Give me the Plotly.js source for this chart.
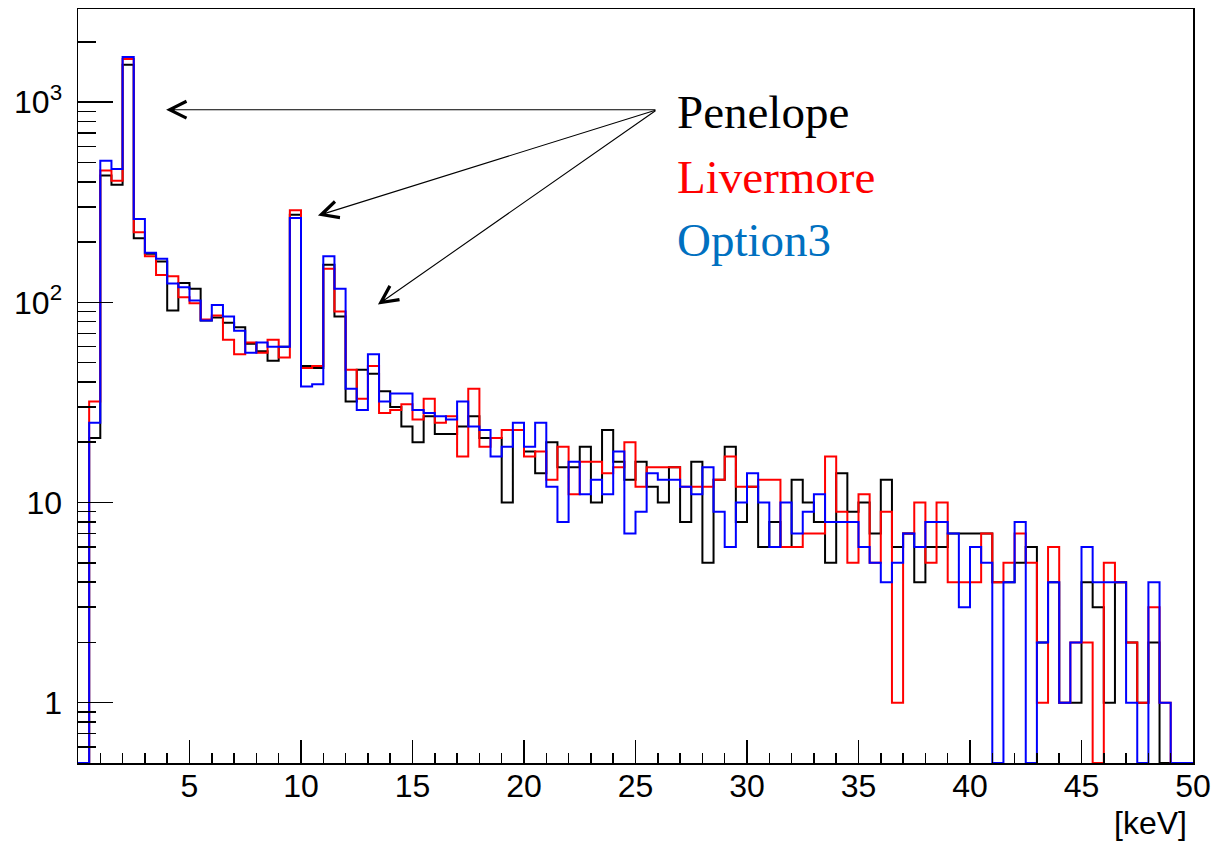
<!DOCTYPE html>
<html><head><meta charset="utf-8">
<script src="https://cdn.plot.ly/plotly-3.0.1.min.js"></script>
<style>html,body{margin:0;padding:0;background:#fff}#chart{width:1211px;height:842px}</style>
</head><body><div id="chart"></div>
<script>
// Histogram: 100 bins of 0.5 keV from 0 to 50 keV
const binLow = 0;
const binWidth = 0.5;

const penelope = [0,21,430,387,1537,209,175,160,91,125,
  117,81,84,79,75,62,57,51,60,274,
  48,47,154,85,32,46,44,36,30,24,
  20,27,22,22,24,27,21,21,10,23,
  18,14,20,15,15,19,10,23,16,13,
  16,12,10,15,8,16,5,13,19,8,
  12,6,8,6,13,10,8,5,14,9,
  10,7,13,6,7,4,6,6,7,7,
  7,7,4,4,5,6,2,4,1,1,
  4,3,1,4,2,1,2,0,0,0];

const livermore = [0,32,455,405,1641,224,170,137,135,106,
  99,82,86,65,55,63,56,65,53,288,
  47,48,147,90,46,33,48,28,29,31,
  26,33,25,27,17,37,19,21,23,23,
  17,18,13,19,11,16,16,14,15,20,
  12,15,15,15,12,12,12,13,17,12,
  12,13,13,6,6,7,7,17,9,5,
  11,5,9,1,7,10,5,10,4,4,
  4,7,4,5,7,5,1,6,1,2,
  2,0,5,4,2,1,3,1,0,0];

const option3 = [0,25,510,463,1680,261,177,165,124,119,
  102,81,97,85,72,56,63,60,60,264,
  38,39,170,117,37,29,55,32,35,35,
  29,28,27,26,32,24,23,17,19,25,
  19,25,12,8,16,11,13,11,18,7,
  9,14,13,13,12,11,15,9,6,10,
  14,10,6,10,7,9,11,8,8,8,
  6,5,4,5,7,6,8,8,7,3,
  6,5,0,4,8,0,2,4,1,2,
  6,4,4,4,1,0,4,1,0,0];

const seriesNames = ["Penelope", "Livermore", "Option3"];
const xTickVals = [5,10,15,20,25,30,35,40,45,50];
const xTickText = ["5","10","15","20","25","30","35","40","45","50"];
const yTickVals = [1,10,100,1000];
const yTickText = ["1","10","10<sup>2</sup>","10<sup>3</sup>"];
const yMinorVals = [0.6,0.7,0.8,0.9,2,3,4,5,6,7,8,9,20,30,40,50,60,70,80,90,200,300,400,500,600,700,800,900,2000];
const xRange = [0, 50];
const yMin = 0.5, yMax = 2917;
const xUnit = "[keV]";

function stepTrace(counts, color, name){
  const xs = [], ys = [];
  counts.forEach((c, i) => { xs.push(binLow + i*binWidth); ys.push(c > 0 ? c : yMin); });
  const last = counts[counts.length-1];
  xs.push(binLow + counts.length*binWidth); ys.push(last > 0 ? last : yMin);
  return {type:'scatter', mode:'lines', x:xs, y:ys, name:name,
    line:{shape:'hv', color:color, width:2}, hoverinfo:'skip', cliponaxis:true};
}

const traces = [
  stepTrace(penelope, '#000000', seriesNames[0]),
  stepTrace(livermore, '#ff0000', seriesNames[1]),
  stepTrace(option3, '#0000ff', seriesNames[2])
];

const L = Math.log10;
// arrows: tail near the labels, heads at the peaks
const tail = {x: 25.96, y: 916};
const heads = [{x: 3.95, y: 916}, {x: 10.76, y: 271}, {x: 13.45, y: 97.5}];

const annotations = heads.map(h => ({
  x: h.x, y: L(h.y), xref:'x', yref:'y',
  ax: tail.x, ay: L(tail.y), axref:'x', ayref:'y',
  text:'', showarrow:true, arrowhead:5, arrowsize:3.0, arrowwidth:1.1, arrowcolor:'#000', standoff:0, startstandoff:0
}));

const labelFont = {family:'"Liberation Serif", "DejaVu Serif", serif', size:47};
annotations.push(
  {xref:'paper', yref:'paper', x:0.535, y:0.8634, xanchor:'left', yanchor:'middle', showarrow:false,
   text:seriesNames[0], font:Object.assign({}, labelFont, {color:'#000000'})},
  {xref:'paper', yref:'paper', x:0.535, y:0.7772, xanchor:'left', yanchor:'middle', showarrow:false,
   text:seriesNames[1], font:Object.assign({}, labelFont, {color:'#ff0000'})},
  {xref:'paper', yref:'paper', x:0.535, y:0.6936, xanchor:'left', yanchor:'middle', showarrow:false,
   text:seriesNames[2], font:Object.assign({}, labelFont, {color:'#0070c0'})},
  {xref:'paper', yref:'paper', x:1, y:0, xanchor:'right', yanchor:'middle', yshift:-60, xshift:-4, showarrow:false,
   text:xUnit, font:{family:'"Liberation Sans", Arial, sans-serif', size:32, color:'#000'}}
);

const tickFont = {family:'"Liberation Sans", Arial, sans-serif', size:32, color:'#000'};

const layout = {
  width:1211, height:842,
  margin:{l:78, r:18, t:9, b:79, pad:0},
  paper_bgcolor:'#fff', plot_bgcolor:'#fff',
  showlegend:false,
  xaxis:{range:xRange, showgrid:false, zeroline:false, showline:true, linecolor:'#000', linewidth:1.5, mirror:true,
    ticks:'inside', tickvals:xTickVals, ticktext:xTickText, ticklen:23, tickwidth:1.5, tickcolor:'#000',
    tickfont:tickFont, ticklabelstandoff:-6, ticklabeloverflow:'allow',
    minor:{ticks:'inside', tick0:0, dtick:1, ticklen:10, tickwidth:1.5, tickcolor:'#000', showgrid:false}},
  yaxis:{type:'log', range:[L(yMin), L(yMax)], showgrid:false, zeroline:false, showline:true, linecolor:'#000', linewidth:1.5, mirror:true,
    ticks:'inside', tickvals:yTickVals, ticktext:yTickText, ticklen:35, tickwidth:1.5, tickcolor:'#000',
    tickfont:tickFont, ticklabelstandoff:8, ticklabeloverflow:'allow',
    minor:{ticks:'inside', tickvals:yMinorVals, ticklen:18, tickwidth:1.5, tickcolor:'#000', showgrid:false}},
  annotations:annotations
};

Plotly.newPlot('chart', traces, layout, {staticPlot:true, displayModeBar:false});
</script>
</body></html>
